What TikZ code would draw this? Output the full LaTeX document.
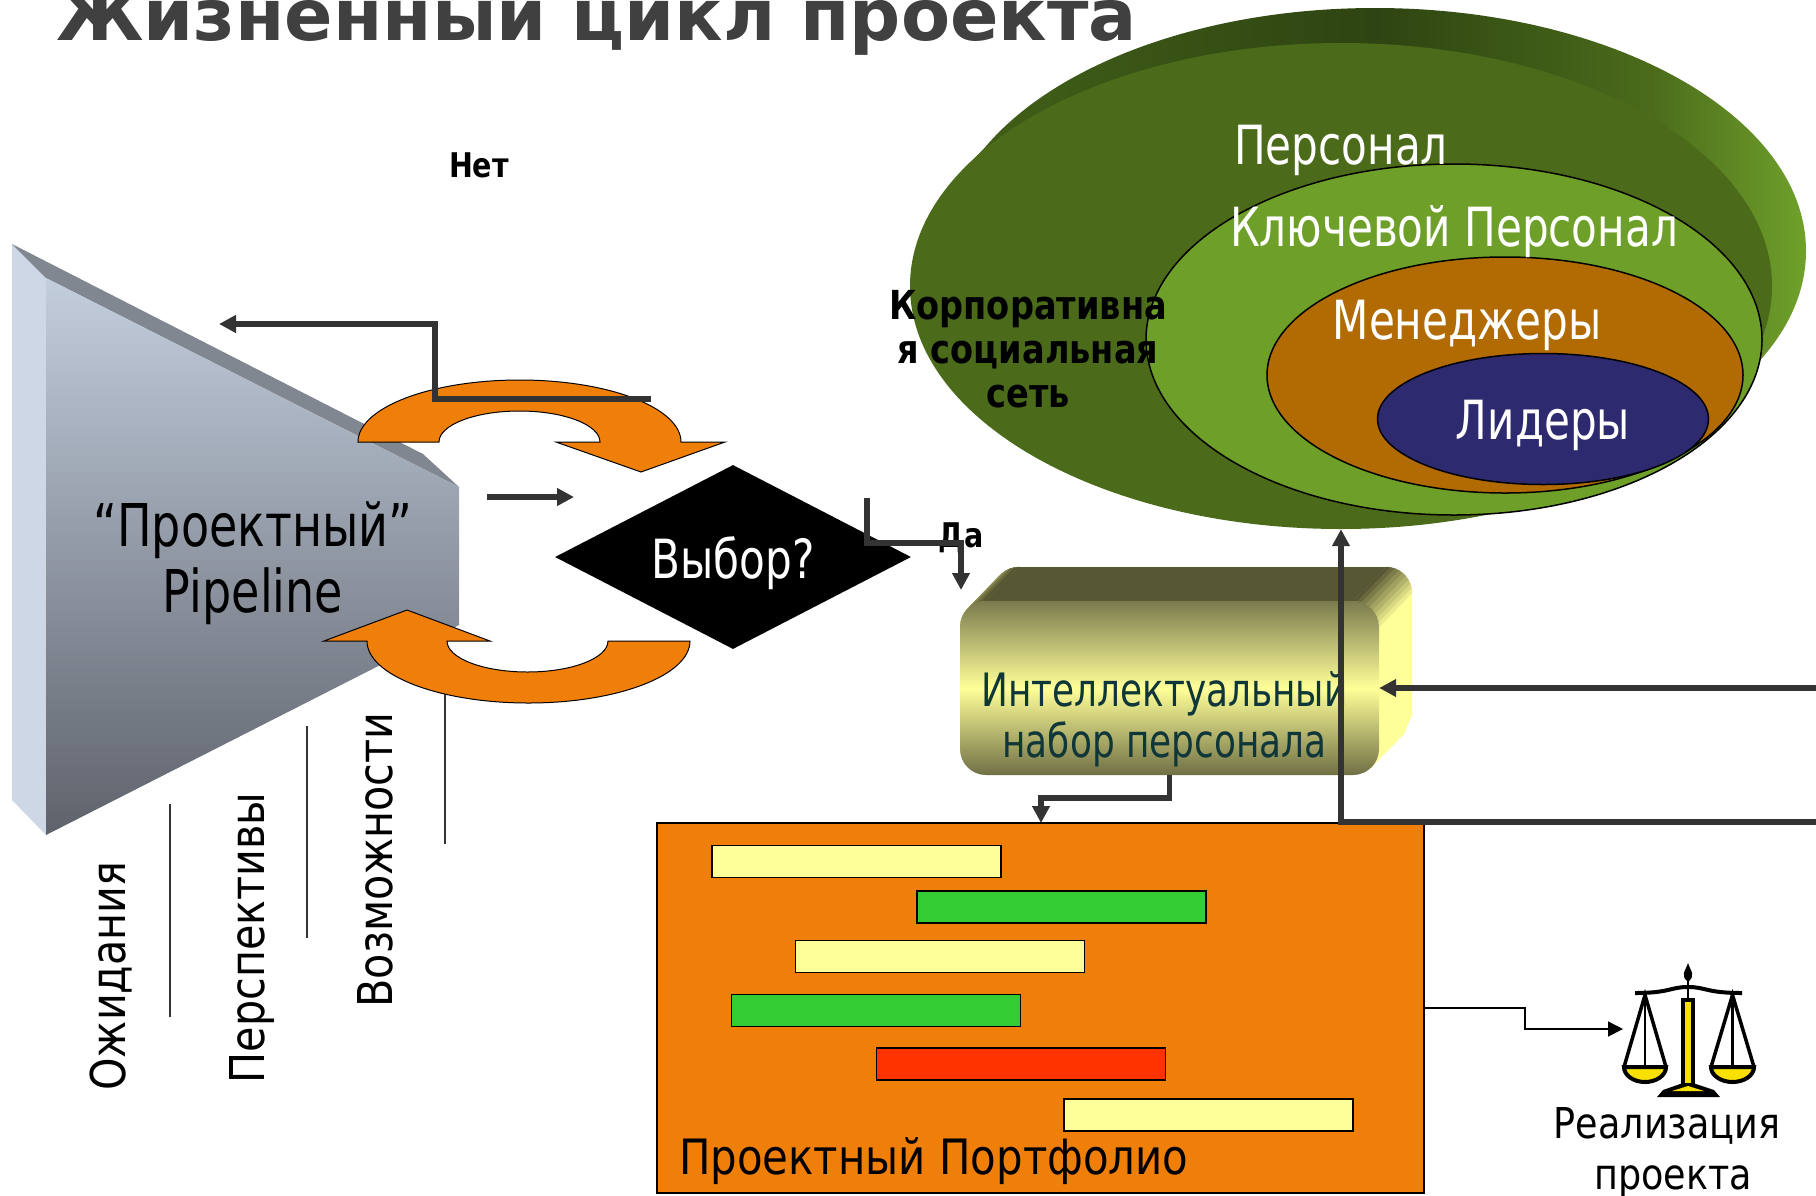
\documentclass[tikz,border=0pt]{standalone}
\usepackage{fontspec}
\usepackage{tikz}
\usetikzlibrary{shapes.geometric}
\usetikzlibrary{positioning}
\usetikzlibrary{arrows.meta}
\setmainfont{DejaVu Sans}
\newfontfamily\slimfont[FakeStretch=0.78]{DejaVu Sans}
\newfontfamily\midfont[FakeStretch=0.86]{DejaVu Sans}
\newfontfamily\slimbold[FakeStretch=0.84]{DejaVu Sans Bold}
\definecolor{slate}{HTML}{333333}
\definecolor{flame}{HTML}{F07F09}
\definecolor{moss}{HTML}{4B6B1B}
\definecolor{leaf}{HTML}{6E9F28}
\definecolor{rust}{HTML}{B16B02}
\definecolor{navy}{HTML}{2E2A6F}
\definecolor{pale}{HTML}{FFFF99}
\definecolor{grass}{HTML}{33CC33}
\definecolor{blaze}{HTML}{FF3300}
\definecolor{olive}{HTML}{575733}
\definecolor{tide}{HTML}{0F3638}
\definecolor{gold}{HTML}{F8E000}
\definecolor{mossdark}{HTML}{2E4412}
\definecolor{mossmid}{HTML}{3F5C17}
\definecolor{mosslight}{HTML}{6FA12B}
\pgfdeclarehorizontalshading{mossband}{100bp}{color(0bp)=(moss); color(30bp)=(mossmid); color(50bp)=(mossdark); color(60bp)=(mossmid); color(66bp)=(moss); color(75bp)=(mosslight); color(100bp)=(mosslight)}
\tikzset{
    link/.style={draw=slate, line width=5.5pt, -{Stealth[length=17pt,width=17pt,inset=0pt]}},
    hair/.style={draw=slate, line width=1.2pt},
    swirl/.style={fill=flame, draw=black, line width=1pt},
    circlenode/.style={ellipse, draw=black, line width=1.5pt, inner sep=0pt},
    bar/.style={draw=black, line width=1.2pt, minimum width=289pt, minimum height=32pt, inner sep=0pt},
    big/.style={font=\slimfont\fontsize{54}{65}\selectfont, inner sep=0pt, align=center},
    side/.style={font=\midfont\fontsize{48}{58}\selectfont, inner sep=0pt, rotate=90},
    heavy/.style={font=\slimbold\fontsize{40}{44}\selectfont, inner sep=0pt, align=center},
}
\begin{document}
\begin{tikzpicture}[x=1pt, y=-1pt]
        \useasboundingbox (0, 0) rectangle (1816, 1195);
        \node[anchor=base west, inner sep=0pt, text=black!75, font=\bfseries\fontsize{71.5}{84}\selectfont] (title) at (56, 40) {Жизненный цикл проекта};

        \fill[fill={rgb,255:red,205;green,215;blue,230}] (12, 244) -- (46, 278) -- (46, 835) -- (12, 800) -- cycle;
        \fill[fill={rgb,255:red,128;green,135;blue,145}] (12, 244) -- (423, 454) -- (459, 487) -- (46, 278) -- cycle;
        \shade[top color={rgb,255:red,195;green,206;blue,221}, bottom color={rgb,255:red,94;green,98;blue,107}] (46, 278) -- (459, 487) -- (459, 625) -- (46, 835) -- cycle;
        \node[big, font=\slimfont\fontsize{59}{66}\selectfont] (pipeline) at (253, 563) {“Проектный”\\Pipeline};

        \coordinate (waitA) at (170, 804);
        \coordinate (waitB) at (170, 1017);
        \coordinate (viewA) at (307, 726);
        \coordinate (viewB) at (307, 938);
        \coordinate (chanceA) at (445, 690);
        \coordinate (chanceB) at (445, 844);
        \draw[hair] (waitA) -- (waitB);
        \draw[hair] (viewA) -- (viewB);
        \draw[hair] (chanceA) -- (chanceB);
        \node[side] (wait) at (111, 976) {Ожидания};
        \node[side] (view) at (252, 938) {Перспективы};
        \node[side] (chance) at (375, 860) {Возможности};

        \draw[swirl] (358, 442) arc[start angle=180, end angle=360, x radius=161.5, y radius=62] -- (725, 442) -- (641, 472) -- (556, 442) -- (600, 442) arc[start angle=0, end angle=-180, x radius=80.5, y radius=31] -- cycle;
        \draw[swirl] (690, 641) arc[start angle=0, end angle=180, x radius=161.5, y radius=62] -- (324, 641) -- (407, 610) -- (490, 641) -- (447, 641) arc[start angle=180, end angle=0, x radius=80.5, y radius=31] -- cycle;

        \node[diamond, fill=black, shape aspect=2, inner sep=0pt, minimum width=356pt, minimum height=184pt] (choice) at (733, 557) {};
        \node[big, text=white] (choicetext) at (733, 563) {Выбор?};

        \shade[shading=mossband] (1375, 251) ellipse (431 and 243) (966, 167) -- (1000, 132) -- (1750, 370) -- (1716, 405) -- cycle;
        \node[ellipse, fill=moss, inner sep=0pt, minimum width=862pt, minimum height=486pt] (staff) at (1341, 286) {};
        \node[circlenode, fill=leaf, minimum width=616pt, minimum height=351pt] (keystaff) at (1454, 339.5) {};
        \node[circlenode, fill=rust, minimum width=476pt, minimum height=236pt] (managers) at (1505, 375) {};
        \node[circlenode, fill=navy, minimum width=331pt, minimum height=131pt] (leaders) at (1543, 419) {};
        \node[big, text=white, anchor=base] (stafftext) at (1341, 164) {Персонал};
        \node[big, text=white, anchor=base] (keytext) at (1454, 246) {Ключевой Персонал};
        \node[big, text=white, anchor=base] (mantext) at (1467, 339) {Менеджеры};
        \node[big, text=white, anchor=base] (leadtext) at (1543, 439) {Лидеры};
        \node[heavy] (network) at (1028, 349) {Корпоративна\\я социальная\\сеть};
        \node[heavy, font=\slimbold\fontsize{34}{38}\selectfont] (no) at (479, 165) {Нет};
        \node[heavy, font=\slimbold\fontsize{34}{38}\selectfont] (yes) at (961, 538) {Да};

        \fill[pale] (1379, 627) -- (1412, 593) -- (1412, 715) -- (1404, 734) -- (1371, 768) -- (1350, 700) -- cycle;
        \fill[olive] (986, 601) -- (1019, 567) -- (1386, 567) -- (1353, 601) -- cycle;
        \foreach \a in {0,10,...,80} {
            \pgfmathsetmacro{\mixa}{100-\a*1.1}
            \pgfmathsetmacro{\mixb}{\a*1.1+12}
            \path[fill=olive!\mixa!pale, draw=olive!\mixa!pale] ([shift={(-90+\a:26)}]1353, 627) -- ([shift={(-80+\a:26)}]1353, 627) -- ([shift={(-80+\a:26)}]1386, 593) -- ([shift={(-90+\a:26)}]1386, 593) -- cycle;
            \path[fill=olive!\mixb!pale, draw=olive!\mixb!pale] ([shift={(-180+\a:26)}]986, 627) -- ([shift={(-170+\a:26)}]986, 627) -- ([shift={(-170+\a:26)}]1019, 593) -- ([shift={(-180+\a:26)}]1019, 593) -- cycle;
        }
        \node[rectangle, rounded corners=26pt, top color={rgb,255:red,122;green,122;blue,78}, bottom color={rgb,255:red,111;green,111;blue,69}, middle color=pale, minimum width=419pt, minimum height=174pt, inner sep=0pt] (recruit) at (1169.5, 688) {};
        \node[big, text=tide, font=\slimfont\fontsize{46}{51}\selectfont] (recruittext) at (1164.5, 719) {Интеллектуальный\hspace{18pt}\\ набор персонала};

        \node[draw=black, line width=1.5pt, fill=flame, minimum width=767pt, minimum height=370pt, inner sep=0pt] (portfolio) at (1040.5, 1008) {};
        \node[bar, fill=pale] (barA) at (856.5, 861.5) {};
        \node[bar, fill=grass] (barB) at (1061.5, 907) {};
        \node[bar, fill=pale] (barC) at (940, 956.5) {};
        \node[bar, fill=grass] (barD) at (876, 1010.5) {};
        \node[bar, fill=blaze] (barE) at (1021, 1064) {};
        \node[bar, fill=pale] (barF) at (1208.5, 1115) {};
        \node[big, anchor=base west, font=\midfont\fontsize{48.7}{55}\selectfont] (portfoliotext) at (679, 1174) {Проектный Портфолио};

        \coordinate (backA) at (651, 399);
        \coordinate (backB) at (219, 324);
        \coordinate (intakeA) at (487, 497);
        \coordinate (intakeB) at (574, 497);
        \coordinate (yesA) at (867, 498);
        \coordinate (yesB) at (961, 590);
        \coordinate (feedA) at (1816, 822);
        \coordinate (feedB) at (1816, 688);
        \coordinate (portin) at (1041, 823);
        \coordinate (scales) at (1623, 1029);
        \draw[link] (backA) -- (435, 399) |- (backB);
        \draw[link] (intakeA) -- (intakeB);
        \draw[link] (yesA) |- (961, 543) -- (yesB);
        \draw[link] (feedA) -| (staff.south);
        \draw[link] (feedB) -- (recruit.east);
        \draw[link] (recruit.south) -- ++(0, 23) -| (portin);
        \draw[draw=black, line width=1.5pt, -{Stealth[length=15pt,width=15pt,inset=0pt]}] (portfolio.east) -- ++(100, 0) |- (scales);

        \draw[line width=4pt] (1635, 993) .. controls (1670, 993) and (1670, 987) .. (1688, 987) .. controls (1706, 987) and (1706, 993) .. (1742, 993);
        \fill (1688, 963) .. controls (1691, 972) and (1696, 975) .. (1688, 982) .. controls (1680, 975) and (1685, 972) .. (1688, 963) -- cycle;
        \draw[line width=2.5pt] (1688, 978) -- (1688, 998);
        \draw[fill=gold, line width=4.5pt] (1683, 1000) -- (1693, 1000) -- (1693, 1085) -- (1683, 1085) -- cycle;
        \fill (1657, 1097) -- (1663, 1090) -- (1683, 1083) -- (1693, 1083) -- (1714, 1090) -- (1720, 1097) -- cycle;
        \fill[gold] (1672, 1091) -- (1688, 1086) -- (1704, 1091) -- cycle;
        \foreach \panx/\pansize in {1645/21, 1732.5/21.5} {
            \draw[line width=3.5pt] (\panx-\pansize, 1067) -- (\panx, 995) -- (\panx+\pansize, 1067);
            \draw[line width=2.5pt] (\panx, 995) -- (\panx, 1067);
            \draw[fill=gold, line width=4pt] (\panx-\pansize, 1067) -- (\panx+\pansize, 1067) arc[start angle=0, end angle=180, x radius=\pansize, y radius=15] -- cycle;
        }
        \node[big, font=\midfont\fontsize{42.5}{51}\selectfont] (result) at (1667, 1153) {Реализация\\\hspace{12pt}проекта};
    \end{tikzpicture}
\end{document}
